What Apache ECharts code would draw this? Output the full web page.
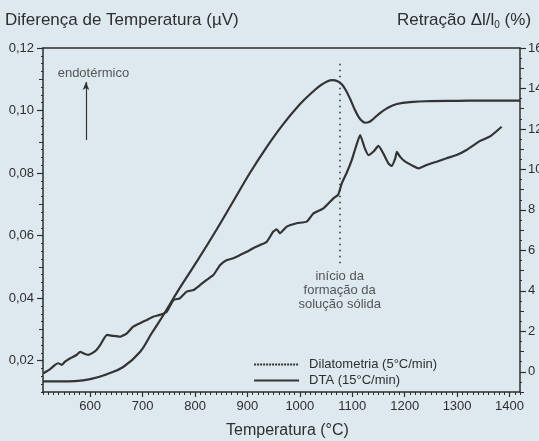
<!DOCTYPE html>
<html><head><meta charset="utf-8">
<script src="https://cdn.jsdelivr.net/npm/echarts@6/dist/echarts.min.js"></script>
<style>html,body{margin:0;padding:0;background:#dee9ef;} #c{width:539px;height:441px;}</style>
</head><body><div id="c"></div>
<script>
// ---- data ----
const xTickLabels = [600,700,800,900,1000,1100,1200,1300,1400];
const leftTickLabels = [0.02,0.04,0.06,0.08,0.10,0.12];
const rightTickLabels = [0,2,4,6,8,10,12,14,16];

// DTA (smooth curve, left axis, µV)
const dtaTemp = [510,542,571,600,632,663,695,717,740,771,803,841,873,905,937,968,1000,1020,1040,1052,1062,1072,1080,1088,1096,1104,1112,1119,1125,1132,1140,1150,1166,1185,1216,1248,1300,1360,1420];
const dtaVal  = [0.0134,0.0134,0.0135,0.0141,0.0157,0.0180,0.0228,0.0287,0.0347,0.0433,0.0516,0.0619,0.0710,0.0801,0.0884,0.0956,0.1020,0.1053,0.1081,0.1093,0.1097,0.1094,0.1084,0.1064,0.1037,0.1006,0.0980,0.0966,0.0961,0.0963,0.0973,0.0988,0.1007,0.1021,0.1028,0.1030,0.1031,0.1032,0.1032];

// Dilatometria (jagged curve, right axis, %)
const dilTemp = [511,523,533,539,546,552,562,574,581,587,596,603,612,619,632,644,657,670,682,695,708,720,733,746,759,771,784,797,810,822,835,848,861,873,886,899,911,924,937,949,956,962,975,994,1013,1026,1045,1064,1073,1080,1089,1099,1107,1115,1124,1131,1140,1150,1159,1169,1175,1182,1185,1191,1201,1216,1226,1242,1261,1280,1299,1318,1344,1363,1385];
const dilVal  = [-0.07,0.12,0.34,0.42,0.34,0.50,0.67,0.83,0.99,0.91,0.83,0.91,1.08,1.32,1.82,1.77,1.73,1.90,2.23,2.40,2.56,2.72,2.81,2.97,3.55,3.63,3.96,4.04,4.29,4.54,4.78,5.28,5.52,5.61,5.77,5.93,6.10,6.26,6.43,6.92,7.04,6.84,7.17,7.34,7.42,7.83,8.08,8.57,8.74,9.31,9.81,10.46,11.12,11.70,11.04,10.71,10.87,11.16,10.80,10.30,10.17,10.55,10.87,10.63,10.38,10.17,10.05,10.22,10.38,10.55,10.71,10.96,11.41,11.63,12.11];

// annotations
const markerTemp = 1076;          // início da formação da solução sólida
const markerRange = [0.1150, 0.0503];
const arrowTemp = 592;
const arrowRange = [0.0906, 0.1091];
const endoLabelPos = [538, 0.1120];

// ---- helpers (tick positions) ----
function range(a, b, s) { const r = []; for (let v = a; v <= b + 1e-9; v += s) r.push(+v.toFixed(6)); return r; }
const xMinor = range(510, 1420, 10);
const leftMinor = range(0.01, 0.12, 0.0025);
const leftMid = range(0.03, 0.11, 0.02);
const rightMinor = range(-1, 16, 0.5);
const rightMid = range(-1, 15, 2);

const ink = '#2e2e2e';
const font = 'Liberation Sans, Arial, sans-serif';
const XMIN = 510, XMAX = 1420;

function tickAxis(pos, min, max, vals, len) {
  return {
    type: 'value', position: pos, min: min, max: max,
    axisLine: { show: false, onZero: false },
    axisTick: { show: true, customValues: vals, length: len, inside: false, lineStyle: { color: ink, width: 1 } },
    axisLabel: { show: false }, splitLine: { show: false }
  };
}

const chart = echarts.init(document.getElementById('c'), null, { renderer: 'canvas' });
chart.setOption({
  animation: false,
  backgroundColor: '#dee9ef',
  grid: { left: 43, right: 19, top: 48, bottom: 49, containLabel: false, outerBoundsMode: 'none' },
  legend: {
    left: 253, top: 358, padding: 0, orient: 'vertical', itemWidth: 45, itemHeight: 14, itemGap: 3,
    itemStyle: { opacity: 0 },
    textStyle: { fontFamily: font, fontSize: 13, color: ink, padding: [0,0,0,5] },
    data: [
      { name: 'Dilatometria (5°C/min)', lineStyle: { type: [2, 1], width: 2.2 }, itemStyle: { opacity: 0 } },
      { name: 'DTA (15°C/min)', itemStyle: { opacity: 0 } }
    ]
  },
  xAxis: [
    { type: 'value', position: 'bottom', min: XMIN, max: XMAX,
      axisLine: { show: true, onZero: false, lineStyle: { color: ink, width: 1.5 } },
      axisTick: { show: true, customValues: xTickLabels, length: 5, lineStyle: { color: ink, width: 1.2 } },
      axisLabel: { show: true, customValues: xTickLabels, margin: 8, fontFamily: font, fontSize: 13, color: ink,
        formatter: v => String(v) },
      splitLine: { show: false } },
    tickAxis('bottom', XMIN, XMAX, xMinor, 3),
    { type: 'value', position: 'top', min: XMIN, max: XMAX,
      axisLine: { show: true, onZero: false, lineStyle: { color: ink, width: 1.5 } },
      axisTick: { show: false }, axisLabel: { show: false }, splitLine: { show: false } }
  ],
  yAxis: [
    { type: 'value', position: 'left', min: 0.01, max: 0.12,
      axisLine: { show: true, onZero: false, lineStyle: { color: ink, width: 1.5 } },
      axisTick: { show: true, customValues: leftTickLabels, length: 6, lineStyle: { color: ink, width: 1.2 } },
      axisLabel: { show: true, customValues: leftTickLabels, margin: 9, fontFamily: font, fontSize: 13, color: ink,
        formatter: v => v.toFixed(2).replace('.', ',') },
      splitLine: { show: false } },
    tickAxis('left', 0.01, 0.12, leftMinor, 2),
    tickAxis('left', 0.01, 0.12, leftMid, 4),
    { type: 'value', position: 'right', min: -1, max: 16,
      axisLine: { show: true, onZero: false, lineStyle: { color: ink, width: 1.5 } },
      axisTick: { show: true, customValues: rightTickLabels, length: 6, lineStyle: { color: ink, width: 1.2 } },
      axisLabel: { show: true, customValues: rightTickLabels, margin: 8, fontFamily: font, fontSize: 13, color: ink },
      splitLine: { show: false } },
    tickAxis('right', -1, 16, rightMinor, 2),
    tickAxis('right', -1, 16, rightMid, 4)
  ],
  series: [
    { name: 'Dilatometria (5°C/min)', type: 'line', xAxisIndex: 0, yAxisIndex: 3,
      data: dilTemp.map((t, i) => [t, dilVal[i]]), symbol: 'none', smooth: 0.15,
      lineStyle: { color: '#333', width: 2.2 }, itemStyle: { color: '#333' } },
    { name: 'DTA (15°C/min)', type: 'line', xAxisIndex: 0, yAxisIndex: 0,
      data: dtaTemp.map((t, i) => [t, dtaVal[i]]), symbol: 'none', smooth: 0.4,
      lineStyle: { color: '#333', width: 2.2 }, itemStyle: { color: '#333' },
      markLine: { silent: true, animation: false, label: { show: false }, emphasis: { disabled: true },
        data: [
          [ { coord: [markerTemp, markerRange[0]], symbol: 'none', lineStyle: { type: [1.5, 4.5], width: 1.6, color: '#333' } },
            { coord: [markerTemp, markerRange[1]], symbol: 'none' } ],
          [ { coord: [arrowTemp, arrowRange[0]], symbol: 'none', lineStyle: { type: 'solid', width: 1.2, color: '#333' } },
            { coord: [arrowTemp, arrowRange[1]], symbol: 'arrow', symbolSize: [5, 8] } ]
        ] } },
    { name: 'annot', type: 'scatter', xAxisIndex: 0, yAxisIndex: 0, symbolSize: 0, silent: true,
      data: [
        { value: [endoLabelPos[0], endoLabelPos[1]],
          label: { show: true, position: 'right', distance: 0, formatter: 'endotérmico', fontFamily: font, fontSize: 13, color: ink } },
        { value: [markerTemp, markerRange[1]],
          label: { show: true, position: 'bottom', distance: 3, align: 'center', lineHeight: 14,
            formatter: 'início da\nformação da\nsolução sólida', fontFamily: font, fontSize: 13, color: ink } }
      ] }
  ],
  graphic: [
    { type: 'text', left: 5, top: 12, style: { text: 'Diferença de Temperatura (µV)', font: '17px ' + font, fill: ink } },
    { type: 'text', left: 397, top: 12, style: {
        text: '{a|Retração Δl/l}{s|0}{a| (%)}',
        rich: { a: { font: '17px ' + font, fill: ink }, s: { font: '10px ' + font, fill: ink, padding: [9, 0, 0, 0] } } } },
    { type: 'text', left: 226, top: 423, style: { text: 'Temperatura (°C)', font: '16px ' + font, fill: ink } }
  ]
});
</script></body></html>
